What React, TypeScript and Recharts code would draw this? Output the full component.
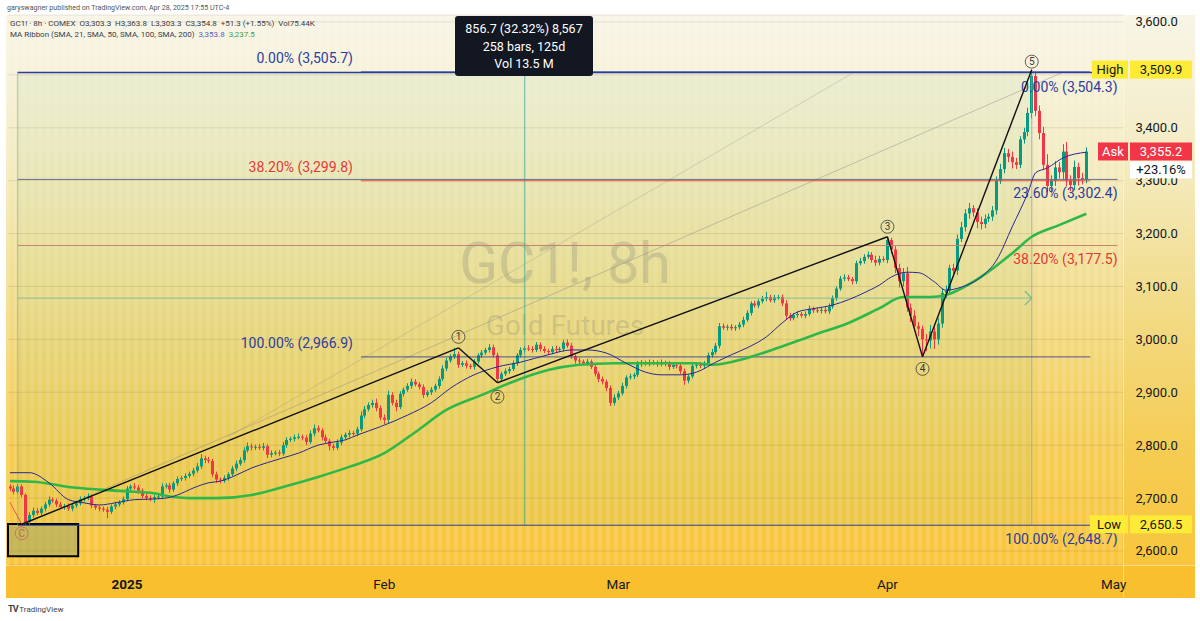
import React from "react";
import {
  ComposedChart,
  Bar,
  Line,
  XAxis,
  YAxis,
  CartesianGrid,
  ReferenceLine,
  ReferenceDot,
  ReferenceArea,
} from "recharts";

// GC1! 8h candles, open = previous close. Closes per month, wick sizes
const firstOpen = 2722;
const decClose = [2718, 2712, 2722, 2706, 2655, 2668, 2676, 2672, 2680, 2688, 2697, 2695, 2688, 2683, 2685, 2680, 2686, 2690, 2698, 2700, 2703, 2686, 2682, 2680, 2678, 2674, 2684, 2688, 2692, 2698];
const decUp = [4, 6, 5, 4, 3, 5, 6, 5, 4, 5, 6, 4, 4, 5, 4, 5, 4, 5, 5, 4, 6, 4, 3, 4, 4, 5, 4, 5, 4, 5];
const decDn = [4, 5, 4, 4, 5, 6, 5, 4, 4, 5, 4, 4, 5, 4, 5, 4, 5, 4, 4, 5, 4, 5, 4, 5, 4, 12, 4, 5, 4, 4];

const janClose = [2718, 2722, 2720, 2714, 2704, 2700, 2699, 2702, 2703, 2722, 2724, 2716, 2728, 2736, 2738, 2742, 2746, 2752, 2760, 2775, 2772, 2770, 2745, 2735, 2733, 2738, 2745, 2756, 2765, 2772, 2790, 2798, 2796, 2797, 2795, 2798, 2782, 2785, 2786, 2784, 2800, 2810, 2812, 2815, 2816, 2814, 2806, 2822, 2832, 2828, 2815, 2808, 2798, 2795, 2805, 2815, 2820, 2823, 2822, 2830, 2856, 2868, 2876, 2880, 2870, 2852, 2848];
const janUp = [5, 4, 6, 5, 4, 4, 5, 4, 5, 6, 4, 5, 4, 5, 4, 5, 4, 5, 6, 8, 5, 6, 4, 5, 4, 5, 4, 5, 6, 5, 6, 7, 5, 4, 5, 6, 4, 5, 4, 5, 6, 5, 4, 5, 6, 4, 5, 6, 7, 5, 4, 5, 4, 5, 6, 5, 4, 5, 4, 5, 8, 6, 5, 6, 8, 5, 6];
const janDn = [4, 5, 4, 6, 5, 4, 5, 8, 4, 5, 4, 6, 4, 5, 4, 5, 4, 5, 4, 5, 6, 4, 5, 6, 5, 4, 5, 4, 5, 4, 5, 4, 6, 5, 4, 5, 6, 5, 4, 5, 4, 5, 4, 5, 4, 5, 6, 4, 5, 4, 6, 5, 8, 5, 4, 5, 4, 5, 4, 5, 4, 5, 4, 5, 6, 5, 8];

const febClose = [2895, 2880, 2872, 2897, 2905, 2912, 2920, 2915, 2910, 2895, 2900, 2905, 2912, 2925, 2945, 2960, 2968, 2972, 2952, 2955, 2950, 2948, 2958, 2970, 2975, 2980, 2985, 2970, 2925, 2935, 2940, 2944, 2955, 2970, 2980, 2983, 2982, 2980, 2990, 2982, 2978, 2976, 2982, 2980, 2982, 2994, 2988, 2968, 2960, 2958, 2955, 2958, 2948, 2935, 2925, 2920, 2908, 2880, 2890];
const febUp = [8, 5, 6, 5, 4, 5, 6, 5, 4, 5, 4, 5, 4, 5, 6, 5, 4, 12, 5, 4, 5, 4, 5, 4, 5, 4, 6, 5, 5, 4, 5, 4, 5, 4, 5, 4, 6, 5, 5, 4, 5, 4, 5, 6, 4, 5, 6, 5, 4, 5, 4, 5, 4, 5, 4, 5, 4, 5, 6];
const febDn = [6, 5, 8, 4, 5, 4, 5, 4, 5, 6, 4, 5, 4, 5, 4, 5, 4, 5, 6, 4, 5, 4, 5, 4, 5, 4, 5, 4, 7, 5, 4, 5, 4, 5, 4, 5, 4, 5, 4, 5, 4, 5, 4, 5, 4, 5, 4, 5, 6, 5, 4, 5, 4, 5, 6, 5, 6, 6, 5];

const marClose = [2898, 2912, 2928, 2930, 2933, 2953, 2956, 2954, 2957, 2955, 2953, 2956, 2954, 2948, 2952, 2950, 2940, 2922, 2930, 2950, 2952, 2950, 2955, 2970, 2976, 2988, 3025, 3022, 3024, 3021, 3023, 3028, 3037, 3050, 3068, 3064, 3072, 3077, 3080, 3074, 3079, 3080, 3068, 3045, 3040, 3046, 3048, 3045, 3048, 3058, 3055, 3054, 3056, 3053, 3062, 3078, 3096, 3115, 3117, 3114, 3110, 3144, 3148, 3156, 3160, 3150, 3145, 3152, 3150];
const marUp = [5, 6, 4, 5, 4, 6, 5, 4, 5, 4, 5, 6, 4, 5, 4, 5, 6, 5, 4, 5, 4, 5, 4, 5, 6, 5, 6, 5, 4, 5, 4, 5, 6, 5, 4, 5, 4, 5, 10, 4, 5, 4, 5, 6, 5, 4, 5, 4, 5, 6, 4, 5, 4, 5, 6, 5, 4, 5, 6, 5, 4, 5, 6, 5, 6, 5, 8, 6, 5];
const marDn = [5, 4, 5, 4, 5, 4, 5, 4, 5, 4, 5, 4, 5, 6, 4, 5, 6, 8, 5, 4, 5, 4, 5, 4, 5, 4, 5, 4, 5, 4, 5, 4, 5, 4, 5, 4, 5, 4, 5, 4, 5, 4, 5, 8, 5, 4, 5, 4, 5, 4, 5, 4, 5, 4, 5, 4, 5, 4, 5, 4, 6, 5, 4, 5, 4, 5, 6, 5, 4];

const aprClose = [3188, 3170, 3135, 3110, 3125, 3060, 3045, 3025, 3020, 3000, 2998, 3015, 3000, 3030, 3088, 3092, 3135, 3130, 3190, 3212, 3238, 3248, 3240, 3222, 3218, 3228, 3232, 3244, 3300, 3322, 3352, 3345, 3335, 3330, 3378, 3392, 3428, 3498, 3432, 3390, 3330, 3290, 3300, 3325, 3316, 3355, 3300, 3292, 3326, 3305, 3303, 3355];
const aprUp = [6, 4, 6, 8, 10, 12, 8, 10, 8, 6, 10, 12, 8, 10, 8, 10, 6, 8, 8, 10, 8, 10, 6, 8, 10, 8, 6, 8, 8, 10, 10, 8, 10, 8, 6, 8, 10, 12, 8, 10, 12, 20, 10, 12, 10, 14, 18, 10, 12, 8, 10, 8];
const aprDn = [6, 8, 10, 12, 10, 8, 12, 10, 14, 33, 20, 15, 18, 10, 8, 10, 8, 12, 8, 6, 8, 10, 8, 12, 10, 8, 6, 8, 8, 6, 8, 10, 12, 8, 6, 8, 8, 10, 10, 12, 10, 12, 14, 10, 12, 14, 10, 12, 10, 14, 10, 8];

// MA ribbon, [bar, price]
const sma21Pts = [[0, 2748], [5, 2748], [10, 2729], [15, 2697], [19, 2691], [23, 2687], [27, 2691], [32, 2697], [36, 2698], [40, 2700], [43, 2706], [47, 2719], [51, 2729], [54, 2732], [57, 2740], [62, 2757], [66, 2767], [70, 2776], [74, 2785], [79, 2800], [83, 2806], [86, 2810], [89, 2819], [95, 2835], [102, 2857], [108, 2880], [113, 2908], [119, 2933], [125, 2948], [131, 2957], [138, 2971], [144, 2980], [148, 2980], [153, 2974], [158, 2955], [163, 2938], [167, 2933], [172, 2933], [176, 2938], [181, 2957], [185, 2971], [189, 2984], [194, 3005], [198, 3031], [202, 3052], [206, 3058], [211, 3065], [215, 3075], [219, 3088], [223, 3103], [226, 3118], [230, 3127], [233, 3126], [237, 3109], [240, 3093], [244, 3099], [249, 3118], [253, 3150], [257, 3213], [261, 3277], [263, 3315], [266, 3324], [270, 3343], [276, 3353.8]];
const sma50Pts = [[0, 2732], [6, 2731], [15, 2721], [23, 2716], [32, 2712], [36, 2710], [42, 2702], [46, 2700], [53, 2700], [62, 2706], [70, 2721], [79, 2740], [87, 2759], [96, 2785], [104, 2825], [112, 2867], [121, 2895], [129, 2920], [138, 2942], [146, 2952], [155, 2955], [163, 2955], [176, 2955], [180, 2952], [189, 2965], [197, 2984], [206, 3008], [215, 3031], [223, 3059], [229, 3080], [236, 3080], [240, 3084], [249, 3118], [257, 3163], [262, 3194], [269, 3216], [276, 3237.5]];

const priceTicks = [2600, 2700, 2800, 2900, 3000, 3100, 3200, 3300, 3400, 3500, 3600];
const timeTicks = [30, 96, 156, 225, 283];
const timeLabels = ["2025", "Feb", "Mar", "Apr", "May"];

// elliott count: bar, price, label, label offset
const waves: [number, number, string, number][] = [
  [3, 2650.5, "C", 9],
  [115, 2984, "1", -11],
  [125, 2918, "2", 14],
  [225, 3194, "3", -10],
  [234, 2967, "4", 12],
  [262, 3509.9, "5", -8],
];

// faint trend lines: [bar, price] -> [bar, price]
const trendLines = [
  [3, 2649, 270, 3505],
  [56, 2816, 216, 3503],
];

const fibLeft: [number, string, string][] = [
  [3505.7, "0.00%", "#2e3d9e"],
  [3299.8, "38.20%", "#e53935"],
  [2966.9, "100.00%", "#2e3d9e"],
];
const fibRight: [number, string, string][] = [
  [3504.3, "0.00%", "#2e3d9e"],
  [3302.4, "23.60%", "#2e3d9e"],
  [3177.5, "38.20%", "#e53935"],
  [2648.7, "100.00%", "#2e3d9e"],
];

const UP = "#089981";
const DOWN = "#f23645";
const FONT = "Roboto, 'Noto Sans', sans-serif";

const closes = [...decClose, ...janClose, ...febClose, ...marClose, ...aprClose];
const upW = [...decUp, ...janUp, ...febUp, ...marUp, ...aprUp];
const dnW = [...decDn, ...janDn, ...febDn, ...marDn, ...aprDn];

const table: any[] = Array.from({ length: 286 }, (_, i) => ({ i }));
closes.forEach((c, i) => {
  const o = i === 0 ? firstOpen : closes[i - 1];
  Object.assign(table[i], { o, c, h: Math.max(o, c) + upW[i], l: Math.min(o, c) - dnW[i] });
});
sma21Pts.forEach(([i, v]) => (table[i].sma21 = v));
sma50Pts.forEach(([i, v]) => (table[i].sma50 = v));

const fmt = (v: number) =>
  v.toLocaleString("en-US", { minimumFractionDigits: 1, maximumFractionDigits: 1 });

function Candle(props: any) {
  const { x, y, width, height, payload } = props;
  if (!payload || payload.c == null) return null;
  const { o, h, l, c } = payload;
  const top = Math.min(y, y + height);
  const span = Math.abs(height);
  const px = (v: number) => top + ((h - v) / (h - l)) * span;
  const color = c >= o ? UP : DOWN;
  const cx = Math.round(x + width / 2) + 0.5;
  const bt = px(Math.max(o, c));
  const bb = px(Math.min(o, c));
  return (
    <g>
      <line x1={cx} x2={cx} y1={top} y2={top + span} stroke={color} strokeWidth={1} />
      <rect x={cx - 1.5} y={bt} width={3} height={Math.max(1, bb - bt)} fill={color} />
    </g>
  );
}

// 3,500 sits under the High tag, 3,300 is half hidden by the change box
const PriceTick = (p: any) => {
  const v = p.payload.value;
  if (v === 3500) return null;
  const t = (
    <text x={p.x} y={p.y + 4.5} fontSize={13} fill="#131722" fontFamily={FONT}>
      {fmt(v)}
    </text>
  );
  if (v !== 3300) return t;
  return (
    <g>
      <clipPath id="tick3300">
        <rect x={p.x - 4} y={p.y - 2.5} width={70} height={16} />
      </clipPath>
      <g clipPath="url(#tick3300)">{t}</g>
    </g>
  );
};

const TimeTick = (p: any) => {
  const label = timeLabels[timeTicks.indexOf(p.payload.value)];
  return (
    <text
      x={p.x}
      y={p.y + 22}
      fontSize={13.5}
      textAnchor="middle"
      fill="#131722"
      fontWeight={label === "2025" ? 700 : 400}
      fontFamily={FONT}
    >
      {label}
    </text>
  );
};

const FibText = ({ viewBox, text, color, side }: any) => {
  const x = side === "left" ? viewBox.x - 8 : viewBox.x + viewBox.width;
  const y = side === "left" ? viewBox.y - 9 : viewBox.y + 19;
  return (
    <text x={x} y={y} textAnchor="end" fontSize={14} fill={color} fontFamily={FONT}>
      {text}
    </text>
  );
};

const Tag = ({ viewBox, name, value, bg, fg, nameW, extra }: any) => {
  const r = viewBox.x + viewBox.width;
  const y = viewBox.y;
  return (
    <g fontFamily={FONT} fontSize={13}>
      <rect x={r + 4.6 - nameW} y={y - 9} width={nameW} height={18} fill={bg} />
      <text x={r + 4.6 - nameW / 2} y={y + 4.5} textAnchor="middle" fill={fg}>
        {name}
      </text>
      <rect x={r + 6.6} y={y - 9} width={62} height={18} fill={bg} />
      <text x={r + 37.6} y={y + 4.5} textAnchor="middle" fill={fg}>
        {value}
      </text>
      {extra && (
        <g>
          <rect x={r + 6.6} y={y + 10} width={62} height={17} fill="#ffffff" />
          <text x={r + 37.6} y={y + 23} textAnchor="middle" fill="#131722">
            {extra}
          </text>
        </g>
      )}
    </g>
  );
};

const WaveMark = ({ cx, cy, t }: any) => {
  const isC = t === "C";
  const col = isC ? "#c0685a" : "#3a3a3a";
  return (
    <g>
      <circle cx={cx} cy={cy} r={6.5} fill="none" stroke={col} strokeWidth={0.8} />
      <text x={cx} y={cy + 3.5} fontSize={10} textAnchor="middle" fill={col} fontFamily={FONT}>
        {t}
      </text>
    </g>
  );
};

export default function App() {
  const wavePath = waves.map(([x, y]) => ({ x, y }));
  return (
    <div style={{ position: "relative", width: 1200, height: 621, background: "#fff", fontFamily: FONT, overflow: "hidden" }}>
      <style>{"body{margin:0}"}</style>
      <div style={{ position: "absolute", left: 7, top: 3, fontSize: 7.1, color: "#555" }}>
        garyswagner published on TradingView.com, Apr 28, 2025 17:55 UTC-4
      </div>
      {/* panel background */}
      <div
        style={{
          position: "absolute",
          left: 6,
          top: 15,
          width: 1189,
          height: 550,
          background: "linear-gradient(180deg, #f8f5e7 0%, #f4ecc4 25%, #f2dc8a 52%, #f5cd55 78%, #f9c53b 100%)",
        }}
      />
      <div
        style={{
          position: "absolute",
          left: 6,
          top: 15,
          width: 1117,
          height: 550,
          background:
            "repeating-linear-gradient(90deg, rgba(255,255,255,0.13) 0px, rgba(255,255,255,0.13) 4px, rgba(255,255,255,0) 4px, rgba(255,255,255,0) 8px)",
        }}
      />
      <div style={{ position: "absolute", left: 6, top: 565, width: 1189, height: 33, background: "#f9bf2e" }} />
      <div style={{ position: "absolute", left: 1123, top: 15, width: 1, height: 583, background: "rgba(255,255,255,0.45)" }} />
      <div style={{ position: "absolute", left: 6, top: 565, width: 1189, height: 1, background: "rgba(255,255,255,0.45)" }} />
      {/* watermark */}
      <div style={{ position: "absolute", left: 315, top: 230, width: 500, textAlign: "center", fontSize: 57, color: "rgba(110,110,110,0.24)" }}>
        GC1!, 8h
      </div>
      <div style={{ position: "absolute", left: 315, top: 309, width: 500, textAlign: "center", fontSize: 28, color: "rgba(110,110,110,0.24)" }}>
        Gold Futures
      </div>

      <div style={{ position: "absolute", left: 0, top: 0 }}>
        <ComposedChart width={1200} height={621} data={table} margin={{ top: 15, right: 4.6, bottom: 23, left: 8 }}>
          <CartesianGrid vertical={false} stroke="rgba(90,70,20,0.13)" />
          <XAxis
            dataKey="i"
            type="category"
            ticks={timeTicks}
            interval={0}
            tick={<TimeTick />}
            axisLine={false}
            tickLine={false}
            tickSize={0}
            height={33}
          />
          <YAxis
            orientation="right"
            domain={[2573.5, 3613.2]}
            allowDataOverflow
            ticks={priceTicks}
            tick={<PriceTick />}
            axisLine={false}
            tickLine={false}
            tickSize={0}
            tickMargin={12}
            width={72}
          />

          {/* measure box */}
          <ReferenceArea x1={2} x2={262} y1={2648.7} y2={3505.7} fill="#66bb6a" fillOpacity={0.07} stroke="none" ifOverflow="visible" />
          <ReferenceArea x1={0} x2={17} y1={2590} y2={2651} fill="#93a36a" fillOpacity={0.5} stroke="#000" strokeWidth={2} ifOverflow="visible" />
          <ReferenceLine segment={[{ x: 2, y: 2648.7 }, { x: 2, y: 3505.7 }]} stroke="#9a9a9a" strokeOpacity={0.6} ifOverflow="visible" />
          <ReferenceLine segment={[{ x: 262, y: 2648.7 }, { x: 262, y: 3505.7 }]} stroke="#9a9a9a" strokeOpacity={0.7} ifOverflow="visible" />
          <ReferenceLine segment={[{ x: 132, y: 2648.7 }, { x: 132, y: 3505.7 }]} stroke="#3fae9a" strokeOpacity={0.8} ifOverflow="visible" />
          <ReferenceLine segment={[{ x: 2, y: 3078 }, { x: 262, y: 3078 }]} stroke="#6fb59a" strokeOpacity={0.8} ifOverflow="visible" />
          <ReferenceDot
            x={262}
            y={3078}
            r={0}
            ifOverflow="visible"
            shape={(p: any) => (
              <path d={`M${p.cx - 7},${p.cy - 7} L${p.cx},${p.cy} L${p.cx - 7},${p.cy + 7}`} stroke="#6fb59a" fill="none" strokeWidth={1.2} />
            )}
          />

          {/* faint trend lines */}
          {trendLines.map(([x1, y1, x2, y2], k) => (
            <ReferenceLine
              key={"t" + k}
              segment={[{ x: x1, y: y1 }, { x: x2, y: y2 }]}
              stroke="#8a8a8a"
              strokeOpacity={k === 0 ? 0.45 : 0.3}
              ifOverflow="visible"
            />
          ))}

          {/* fib levels */}
          {fibRight.map(([p, pct, col]) => (
            <ReferenceLine
              key={"r" + pct}
              segment={[{ x: 2, y: p }, { x: 284, y: p }]}
              stroke={pct === "38.20%" ? "#c98070" : pct === "23.60%" ? "#6a6f8f" : col}
              strokeWidth={pct === "0.00%" ? 1.5 : 1}
              ifOverflow="visible"
              label={(lp: any) => <FibText viewBox={lp.viewBox} text={`${pct} (${fmt(p)})`} color={col} side="right" />}
            />
          ))}
          {fibLeft.map(([p, pct, col]) => (
            <ReferenceLine
              key={"l" + pct}
              segment={[{ x: 90, y: p }, { x: 277, y: p }]}
              stroke={col}
              strokeOpacity={0.85}
              ifOverflow="visible"
              label={(lp: any) => <FibText viewBox={lp.viewBox} text={`${pct} (${fmt(p)})`} color={col} side="left" />}
            />
          ))}

          <Bar dataKey={(d: any) => (d.c == null ? null : [d.l, d.h])} barSize={3} shape={<Candle />} isAnimationActive={false} />
          <Line type="monotone" dataKey="sma50" stroke="#2fb84a" strokeWidth={2.6} dot={false} connectNulls isAnimationActive={false} />
          <Line type="monotone" dataKey="sma21" stroke="#27279a" strokeWidth={1} dot={false} connectNulls isAnimationActive={false} />

          {/* wave lines */}
          <ReferenceLine segment={[{ x: 0, y: 2692 }, { x: 3, y: 2651 }]} stroke="#ef5350" strokeWidth={1} ifOverflow="visible" />
          {wavePath.slice(1).map((pt, k) => (
            <ReferenceLine key={"w" + k} segment={[wavePath[k], pt]} stroke="#111" strokeWidth={1.4} ifOverflow="visible" />
          ))}
          {waves.map(([x, y, t, off]) => (
            <ReferenceDot key={"m" + t} x={x} y={y} r={0} ifOverflow="visible" shape={(p: any) => <WaveMark cx={p.cx} cy={p.cy + off} t={t} />} />
          ))}

          {/* price tags */}
          <ReferenceLine y={3509.9} stroke="none" label={(lp: any) => <Tag viewBox={lp.viewBox} name="High" value="3,509.9" bg="#fdeb35" fg="#131722" nameW={36} />} />
          <ReferenceLine y={3355.2} stroke="none" label={(lp: any) => <Tag viewBox={lp.viewBox} name="Ask" value="3,355.2" bg="#f23645" fg="#ffffff" nameW={30} extra="+23.16%" />} />
          <ReferenceLine y={2650.5} stroke="none" label={(lp: any) => <Tag viewBox={lp.viewBox} name="Low" value="2,650.5" bg="#fdeb35" fg="#131722" nameW={38} />} />
        </ComposedChart>
      </div>

      {/* legend */}
      <div style={{ position: "absolute", left: 10, top: 19, fontSize: 8, color: "#3a3d48", whiteSpace: "pre" }}>
        {"GC1! · 8h · COMEX  O3,303.3  H3,363.8  L3,303.3  C3,354.8  +51.3 (+1.55%)  Vol75.44K"}
      </div>
      <div style={{ position: "absolute", left: 10, top: 30, fontSize: 8, color: "#3a3d48", whiteSpace: "pre" }}>
        {"MA Ribbon (SMA, 21, SMA, 50, SMA, 100, SMA, 200)  "}
        <span style={{ color: "#5c62c4" }}>3,353.8</span>
        {"  "}
        <span style={{ color: "#43a047" }}>3,237.5</span>
      </div>

      {/* measure info */}
      <div
        style={{
          position: "absolute",
          left: 455,
          top: 16,
          width: 138,
          height: 60,
          background: "#131722",
          borderRadius: 3,
          color: "#fff",
          fontSize: 12.5,
          textAlign: "center",
          lineHeight: "17.5px",
          paddingTop: 4,
          boxSizing: "border-box",
        }}
      >
        <div>856.7 (32.32%) 8,567</div>
        <div>258 bars, 125d</div>
        <div>Vol 13.5 M</div>
      </div>

      <div style={{ position: "absolute", left: 8, top: 604, fontSize: 8, color: "#444" }}>
        <b style={{ fontSize: 9, letterSpacing: -1 }}>TV</b> TradingView
      </div>
    </div>
  );
}
